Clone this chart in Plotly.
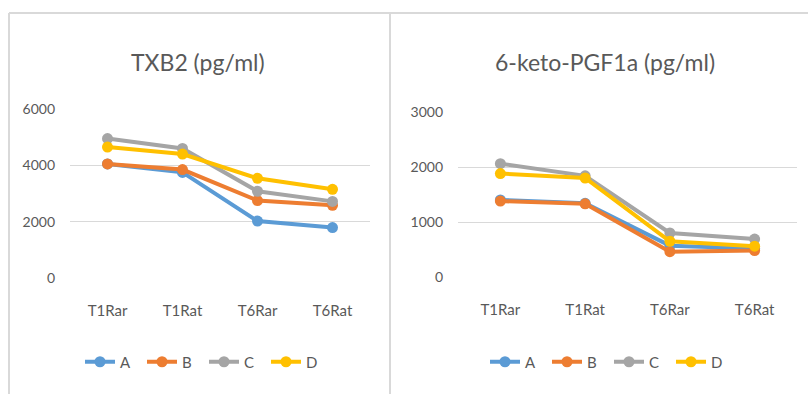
import plotly.graph_objects as go

categories = ["T1Rar", "T1Rat", "T6Rar", "T6Rat"]
series_names = ["A", "B", "C", "D"]
colors = ["#5B9BD5", "#ED7D31", "#A5A5A5", "#FFC000"]

txb2_A = [4050, 3750, 2020, 1790]
txb2_B = [4050, 3850, 2750, 2580]
txb2_C = [4950, 4600, 3080, 2720]
txb2_D = [4650, 4400, 3540, 3150]

pgf_A = [1400, 1340, 570, 520]
pgf_B = [1380, 1330, 460, 480]
pgf_C = [2060, 1840, 800, 690]
pgf_D = [1880, 1800, 650, 560]

left_title = "TXB2 (pg/ml)"
right_title = "6-keto-PGF1a (pg/ml)"
left_ticks = [0, 2000, 4000, 6000]
right_ticks = [0, 1000, 2000, 3000]

W, H = 808, 394
FONT = "Lato"
TXT = "#595959"

fig = go.Figure()

left_data = [txb2_A, txb2_B, txb2_C, txb2_D]
right_data = [pgf_A, pgf_B, pgf_C, pgf_D]

for name, col, vals in zip(series_names, colors, left_data):
    fig.add_trace(go.Scatter(x=categories, y=vals, name=name, mode="lines+markers",
                             line=dict(color=col, width=4), marker=dict(color=col, size=11),
                             xaxis="x", yaxis="y", legend="legend"))
for name, col, vals in zip(series_names, colors, right_data):
    fig.add_trace(go.Scatter(x=categories, y=vals, name=name, mode="lines+markers",
                             line=dict(color=col, width=4), marker=dict(color=col, size=11),
                             xaxis="x2", yaxis="y2", legend="legend2"))

def px_x(p):
    return p / W

def px_y(p):
    return (H - p) / H

xfont = dict(family=FONT, size=15, color=TXT)
yfont = dict(family=FONT, size=14, color=TXT)

fig.update_layout(
    width=W, height=H, autosize=False,
    margin=dict(l=0, r=0, t=0, b=0, autoexpand=False),
    paper_bgcolor="white", plot_bgcolor="white",
    font=dict(family=FONT, color=TXT),
    showlegend=True,
    xaxis=dict(domain=[px_x(70), px_x(370)], type="category", range=[-0.5, 3.5],
               showgrid=False, showline=False, zeroline=False, ticks="",
               ticklabelstandoff=22, anchor="y", tickfont=xfont),
    yaxis=dict(domain=[px_y(278), px_y(109)], range=[0, 6000], tickvals=left_ticks,
               showgrid=True, gridcolor="#D9D9D9", gridwidth=1, ticks="",
               showline=False, zeroline=False,
               ticklabelstandoff=14, anchor="x", tickfont=yfont),
    xaxis2=dict(domain=[px_x(458), px_x(797)], type="category", range=[-0.5, 3.5],
                showgrid=False, showline=False, zeroline=False, ticks="",
                ticklabelstandoff=22, anchor="y2", tickfont=xfont),
    yaxis2=dict(domain=[px_y(277), px_y(112)], range=[0, 3000], tickvals=right_ticks,
                showgrid=True, gridcolor="#D9D9D9", gridwidth=1, ticks="",
                showline=False, zeroline=False,
                ticklabelstandoff=14, anchor="x2", tickfont=yfont),
    legend=dict(orientation="h", x=px_x(204), y=px_y(362), xanchor="center", yanchor="middle",
                font=dict(family=FONT, size=15, color=TXT), bgcolor="rgba(0,0,0,0)",
                entrywidth=17, entrywidthmode="pixels", itemclick=False),
    legend2=dict(orientation="h", x=px_x(609), y=px_y(362), xanchor="center", yanchor="middle",
                 font=dict(family=FONT, size=15, color=TXT), bgcolor="rgba(0,0,0,0)",
                 entrywidth=17, entrywidthmode="pixels", itemclick=False),
    annotations=[
        dict(text=left_title, x=px_x(198), y=px_y(62), xref="paper", yref="paper",
             showarrow=False, xanchor="center", yanchor="middle",
             font=dict(family=FONT, size=23, color=TXT)),
        dict(text=right_title, x=px_x(605), y=px_y(62), xref="paper", yref="paper",
             showarrow=False, xanchor="center", yanchor="middle",
             font=dict(family=FONT, size=23, color=TXT)),
    ],
    shapes=[
        dict(type="line", xref="paper", yref="paper", x0=px_x(9), x1=1, y0=px_y(13), y1=px_y(13),
             line=dict(color="#D9D9D9", width=2)),
        dict(type="line", xref="paper", yref="paper", x0=px_x(9), x1=px_x(9), y0=0, y1=px_y(13),
             line=dict(color="#D9D9D9", width=2)),
        dict(type="line", xref="paper", yref="paper", x0=px_x(390), x1=px_x(390), y0=0, y1=px_y(13),
             line=dict(color="#D9D9D9", width=2)),
    ],
)

fig.write_html("out.html", config={"displayModeBar": False},
               post_script="document.body.style.margin='0';")
